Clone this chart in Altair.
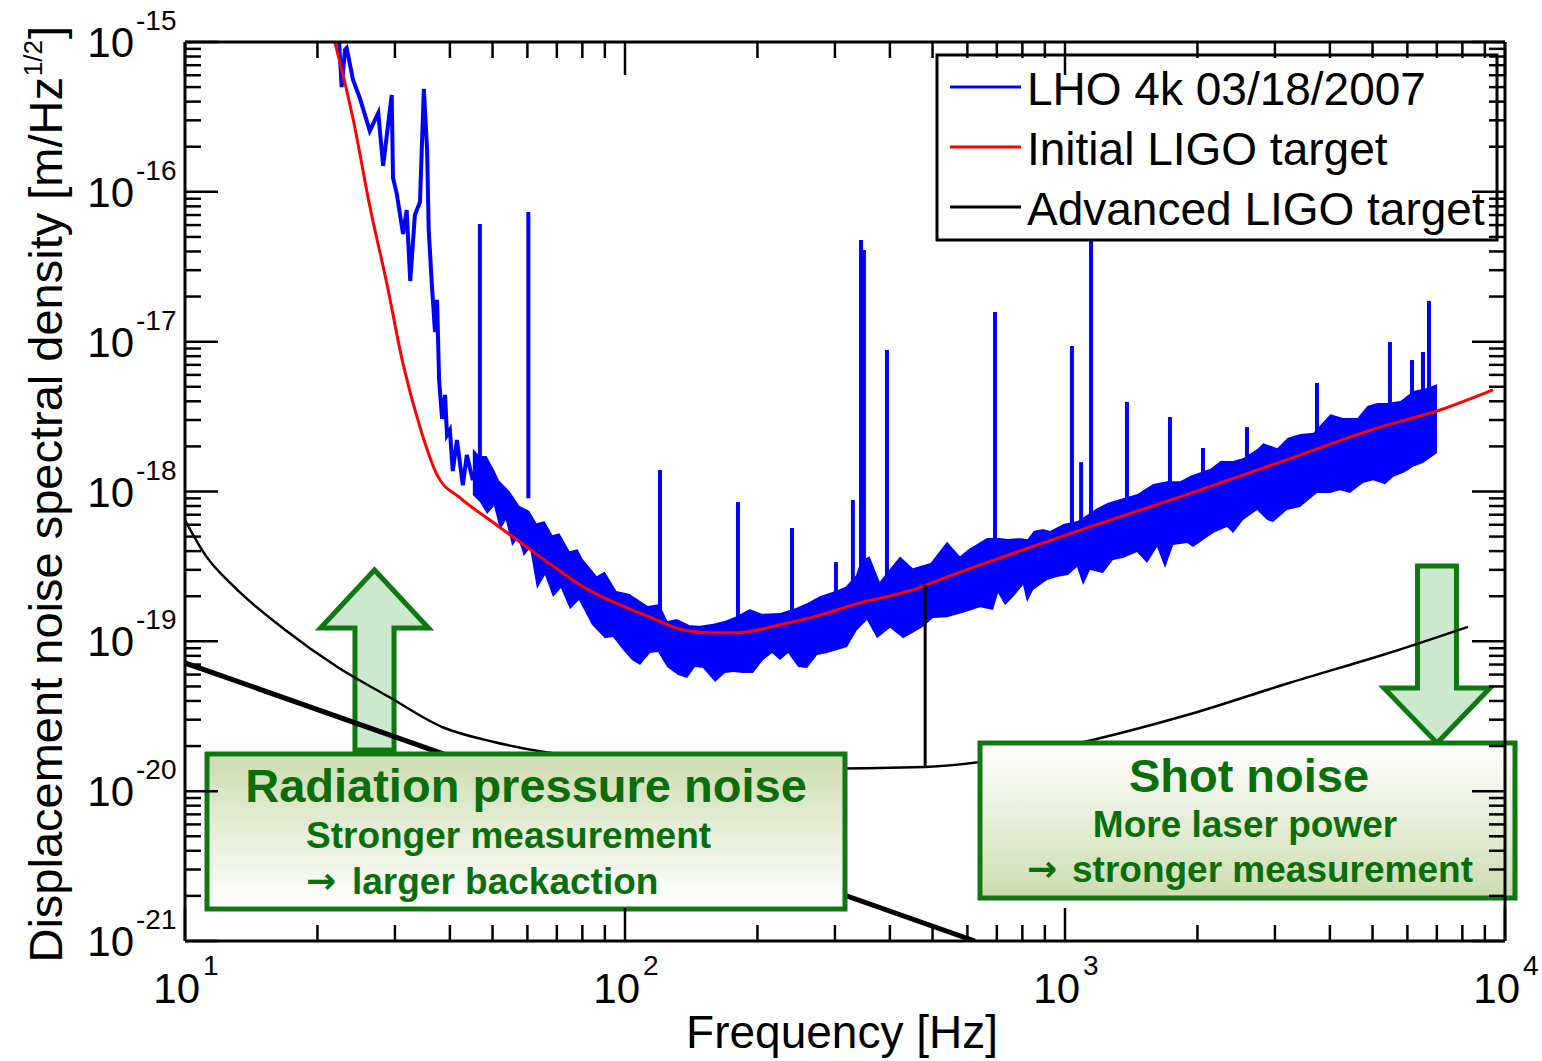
import altair as alt
import pandas as pd

# ---------------- data ----------------
# Initial LIGO target (red)
red_freq = [21.9, 24.1, 26.3, 28.8, 31.3, 34.2, 37.4, 42.2, 49.3, 57.7, 68.6, 82.0, 97.4,
            114, 133, 158, 180, 225, 267, 348, 451, 540, 711, 1082, 1825, 3080, 5200, 7120, 9390]
red_val = [1.0e-15, 3.06e-16, 8.04e-17, 2.39e-17, 7.1e-18, 2.69e-18, 1.29e-18, 9.05e-19, 6.45e-19,
           4.6e-19, 3.18e-19, 2.23e-19, 1.75e-19, 1.45e-19, 1.21e-19, 1.14e-19, 1.14e-19, 1.29e-19,
           1.45e-19, 1.83e-19, 2.2e-19, 2.69e-19, 3.6e-19, 5.53e-19, 9.2e-19, 1.57e-18, 2.69e-18,
           3.5e-18, 4.76e-18]

# Advanced LIGO target (thin black)
adv_freq = [10, 10.2, 11.2, 12.8, 16.9, 22.2, 29.1, 38.4, 50.4, 66.1, 87.3, 150, 261, 481,
            648, 1105, 1893, 3228, 5535, 8240]
adv_val = [6.45e-19, 5.79e-19, 3.66e-19, 2.38e-19, 1.19e-19, 6.74e-20, 4.25e-20, 2.68e-20, 2.13e-20,
           1.82e-20, 1.66e-20, 1.45e-20, 1.41e-20, 1.45e-20, 1.57e-20, 2.13e-20, 3.22e-20,
           5.27e-20, 8.49e-20, 1.25e-19]
# Advanced LIGO violin-mode line
adv_line_freq = [481]
adv_line_base = [1.45e-20]
adv_line_top = [2.38e-19]

# radiation pressure line (thick black)
rp_freq = [10, 624]
rp_val = [7.17e-20, 1.0e-21]

# LHO 4k measured spectrum (blue): low-frequency trace
low_freq = [22.4, 22.7, 23.1, 23.3, 24.1, 25.0, 26.3, 27.5, 28.2, 29.5, 29.7, 30.3, 31.3, 31.9, 32.5,
            33.3, 34.2, 34.9, 35.5, 35.8, 36.4, 37.0, 37.4, 37.8, 38.4, 39.0, 39.4, 40.0, 40.6, 41.5,
            42.8, 43.7, 45.1]
low_val = [1.0e-15, 5.0e-16, 8.85e-16, 9.1e-16, 5.58e-16, 4.17e-16, 2.55e-16, 3.36e-16, 1.49e-16,
           4.43e-16, 1.24e-16, 9.67e-17, 5.23e-17, 7.56e-17, 2.54e-17, 7.0e-17, 8.55e-17, 4.86e-16,
           1.9e-16, 5.56e-17, 2.39e-17, 1.16e-17, 1.9e-17, 5.55e-18, 3.05e-18, 4.41e-18, 2.38e-18,
           2.57e-18, 1.37e-18, 2.21e-18, 1.10e-18, 1.75e-18, 1.19e-18]

# LHO 4k measured spectrum (blue): ragged upper edge of the noise band
up_freq = [45.1, 46.8, 48.6, 50.7, 52.0, 54.8, 57.7, 60.8, 63.1, 65.8, 68.6, 71.1, 75.0, 78.2,
           80.3, 86.4, 90.0, 95.9, 102.7, 112.8, 120.1, 125.2, 131.3, 140.5, 148.1, 158.5, 168.8,
           177.8, 192.3, 204.8, 225.1, 243.5, 259.3, 277.6, 300.1, 316.2, 333.3, 342.1, 360.5,
           379.8, 421.7, 451.3, 493.4, 539.3, 577.1, 608.2, 664.8, 711.8, 738.3, 790.2, 819.8,
           846.1, 891.3, 924.6, 989.7, 1065, 1140, 1182, 1246, 1334, 1458, 1585, 1705, 1826, 1924,
           2135, 2251, 2409, 2539, 2732, 2818, 3033, 3195, 3421, 3661, 4004, 4284, 4609, 4857,
           5119, 5393, 5774, 6179, 6648, 7007]
up_val = [1.98e-18, 1.75e-18, 1.75e-18, 1.39e-18, 1.19e-18, 1.02e-18, 8.13e-19, 7.52e-19, 6.26e-19,
          6.45e-19, 5.20e-19, 5.36e-19, 4.07e-19, 4.20e-19, 3.60e-19, 2.77e-19, 2.99e-19, 2.20e-19,
          2.10e-19, 1.75e-19, 1.80e-19, 1.39e-19, 1.43e-19, 1.30e-19, 1.29e-19, 1.33e-19, 1.39e-19,
          1.48e-19, 1.67e-19, 1.55e-19, 1.57e-19, 1.69e-19, 1.83e-19, 2.04e-19, 2.20e-19, 2.34e-19,
          2.77e-19, 3.49e-19, 3.77e-19, 2.57e-19, 3.77e-19, 3.13e-19, 3.38e-19, 4.74e-19, 3.77e-19,
          4.26e-19, 4.97e-19, 4.97e-19, 4.89e-19, 4.97e-19, 4.89e-19, 5.53e-19, 5.71e-19, 5.53e-19,
          6.16e-19, 6.45e-19, 7.30e-19, 7.88e-19, 8.51e-19, 9.05e-19, 9.77e-19, 1.14e-18, 1.19e-18,
          1.19e-18, 1.29e-18, 1.44e-18, 1.62e-18, 1.62e-18, 1.70e-18, 1.95e-18, 2.14e-18, 1.98e-18,
          2.31e-18, 2.46e-18, 2.50e-18, 3.34e-18, 3.14e-18, 3.14e-18, 3.78e-18, 3.96e-18, 3.96e-18,
          4.08e-18, 4.76e-18, 4.98e-18, 5.30e-18]

# LHO 4k measured spectrum (blue): ragged lower edge of the noise band
lo_freq = [45.1, 46.8, 48.6, 50.4, 52.0, 53.6, 55.4, 57.1, 58.9, 60.8, 63.1, 65.8, 68.6, 71.5,
           75.0, 78.6, 84.1, 90.0, 93.9, 99.0, 103.7, 108.2, 114.0, 118.9, 124.6, 132.0, 138.4,
           144.2, 150.4, 160.2, 168.8, 176.1, 185.4, 195.4, 205.9, 215.9, 225.1, 234.8, 247.4,
           259.3, 273.3, 287.9, 303.3, 319.6, 336.8, 354.8, 373.9, 400.4, 428.5, 451.3, 475.7,
           501.2, 539.3, 586.5, 641.0, 686.2, 704.3, 730.6, 761.9, 802.8, 819.8, 846.1, 910.3,
           959.0, 1016, 1065, 1099, 1140, 1220, 1285, 1355, 1458, 1536, 1619, 1688, 1761, 1894,
           1954, 2059, 2170, 2335, 2409, 2539, 2732, 2879, 2970, 3195, 3421, 3739, 4004, 4217,
           4443, 4757, 5012, 5337, 5566, 5925, 6179, 6510, 7007]
lo_val = [9.48e-19, 8.51e-19, 7.08e-19, 8.00e-19, 5.53e-19, 6.45e-19, 4.33e-19, 4.89e-19, 3.71e-19,
          4.20e-19, 2.24e-19, 2.77e-19, 1.98e-19, 2.27e-19, 1.64e-19, 1.89e-19, 1.29e-19, 1.05e-19,
          1.07e-19, 8.75e-20, 7.50e-20, 6.95e-20, 8.36e-20, 8.49e-20, 6.74e-20, 5.96e-20, 5.69e-20,
          6.74e-20, 6.64e-20, 5.35e-20, 6.15e-20, 6.24e-20, 6.15e-20, 6.15e-20, 7.50e-20, 8.36e-20,
          7.50e-20, 8.36e-20, 6.74e-20, 6.64e-20, 8.10e-20, 8.36e-20, 8.75e-20, 9.16e-20, 1.19e-19,
          1.39e-19, 1.05e-19, 1.23e-19, 1.05e-19, 1.14e-19, 1.25e-19, 1.43e-19, 1.45e-19, 1.55e-19,
          1.69e-19, 1.62e-19, 2.10e-19, 1.75e-19, 1.98e-19, 2.38e-19, 1.83e-19, 2.20e-19, 2.57e-19,
          2.69e-19, 2.77e-19, 3.13e-19, 2.38e-19, 2.99e-19, 2.86e-19, 3.49e-19, 3.60e-19, 3.95e-19,
          3.33e-19, 4.26e-19, 3.09e-19, 4.39e-19, 4.53e-19, 4.26e-19, 4.74e-19, 5.28e-19, 5.79e-19,
          5.28e-19, 6.45e-19, 7.52e-19, 6.45e-19, 6.26e-19, 7.52e-19, 7.88e-19, 9.77e-19, 9.77e-19,
          1.02e-18, 9.77e-19, 1.14e-18, 1.19e-18, 1.12e-18, 1.25e-18, 1.35e-18, 1.46e-18, 1.55e-18,
          1.81e-18]

# LHO 4k measured spectrum (blue): narrow lines
spike_freq = [46.8, 60.3, 120.1, 180.6, 239.6, 301.6, 329.6, 343.9, 349.2, 393.9, 693.4, 1037,
              1088, 1146, 1383, 1732, 2059, 2592, 3739, 5477, 6146, 6510, 6718]
spike_base = [1.3e-18, 9.0e-19, 1.5e-19, 1.4e-19, 1.6e-19, 2.0e-19, 2.3e-19, 2.5e-19, 2.5e-19,
              2.6e-19, 3.6e-19, 6.0e-19, 6.0e-19, 7.0e-19, 8.0e-19, 1.0e-18, 1.2e-18, 1.5e-18,
              2.4e-18, 3.5e-18, 4.0e-18, 4.0e-18, 4.0e-18]
spike_top = [6.10e-17, 7.33e-17, 1.39e-18, 8.51e-19, 5.71e-19, 3.38e-19, 8.77e-19, 4.77e-17,
             4.09e-17, 8.8e-18, 1.58e-17, 9.35e-18, 1.57e-18, 4.77e-17, 3.96e-18, 3.14e-18,
             1.95e-18, 2.69e-18, 5.30e-18, 9.95e-18, 7.54e-18, 8.53e-18, 1.87e-17]

# legend
series_names = ["LHO 4k 03/18/2007", "Initial LIGO target", "Advanced LIGO target"]
series_colors = ["#0000ff", "#ff0000", "#000000"]

# axis ticks / labels
x_domain = [10, 10000]
y_domain = [1e-21, 1e-15]
x_major = [10, 100, 1000, 10000]
x_exp = ["1", "2", "3", "4"]
y_major = [1e-21, 1e-20, 1e-19, 1e-18, 1e-17, 1e-16, 1e-15]
y_exp = ["-21", "-20", "-19", "-18", "-17", "-16", "-15"]
x_minor = [k * 10 ** d for d in range(1, 4) for k in range(2, 10)]
y_minor = [k * 10.0 ** d for d in range(-21, -15) for k in range(2, 10)]

# annotation texts
rad_title = "Radiation pressure noise"
rad_lines = ["Stronger measurement", "\u2192 larger backaction"]
shot_title = "Shot noise"
shot_lines = ["More laser power", "\u2192 stronger measurement"]
x_title = "Frequency [Hz]"
y_title_main = "Displacement noise spectral density [m/Hz"
y_title_sup = "1/2"

# ---------------- styling ----------------
FONT = "Liberation Sans, Arial, Helvetica, sans-serif"
ARROW_FONT = "DejaVu Sans, sans-serif"
W, H = 1320, 899
GREEN_TEXT = "#0a6e0a"
GREEN_LINE = "#107810"
ARROW_FILL = "#cde9cd"
BLUE = "#0000ff"

xs = alt.Scale(type="log", domain=x_domain, nice=False)
ys = alt.Scale(type="log", domain=y_domain, nice=False)


def X(field):
    return alt.X(field, type="quantitative", scale=xs, axis=None)


def Y(field):
    return alt.Y(field, type="quantitative", scale=ys, axis=None)


one = pd.DataFrame({"a": [0]})
layers = []

# ---- arrows (under the curves) ----
up_path = "M0,-1L0.6,-0.356L0.217,-0.356L0.217,1L-0.217,1L-0.217,-0.356L-0.6,-0.356Z"
down_path = "M0,1L0.6,0.379L0.22,0.379L0.22,-1L-0.22,-1L-0.22,0.379L-0.6,0.379Z"
layers.append(alt.Chart(one).mark_point(
    shape=up_path, size=32400, filled=True, fill=ARROW_FILL, stroke=GREEN_LINE,
    strokeWidth=5, opacity=1, strokeJoin="miter").encode(x=alt.value(189.5), y=alt.value(618)))
layers.append(alt.Chart(one).mark_point(
    shape=down_path, size=31329, filled=True, fill=ARROW_FILL, stroke=GREEN_LINE,
    strokeWidth=5, opacity=1, strokeJoin="miter").encode(x=alt.value(1252), y=alt.value(612.5)))

# ---- measured spectrum (blue) ----
# band: fill above the ragged lower edge, then blank out above the ragged upper edge
lo_df = pd.DataFrame({"f": lo_freq, "v": lo_val, "ceil": y_domain[1]})
up_df = pd.DataFrame({"f": up_freq, "v": up_val, "ceil": y_domain[1]})
layers.append(alt.Chart(lo_df).mark_area(color=BLUE, opacity=1).encode(
    x=X("f"), y=Y("v"), y2="ceil:Q"))
layers.append(alt.Chart(up_df).mark_area(fill="white", stroke="white", strokeWidth=2,
                                         opacity=1).encode(
    x=X("f"), y=Y("v"), y2="ceil:Q"))
low_df = pd.DataFrame({"f": low_freq, "v": low_val, "i": range(len(low_freq))})
layers.append(alt.Chart(low_df).mark_line(color=BLUE, strokeWidth=4, clip=True).encode(
    x=X("f"), y=Y("v"), order="i:Q"))
spk_df = pd.DataFrame({"f": spike_freq, "b": spike_base, "t": spike_top})
layers.append(alt.Chart(spk_df).mark_rule(color=BLUE, strokeWidth=4).encode(
    x=X("f"), y=Y("b"), y2="t:Q"))

# ---- Initial LIGO target (red) ----
red_df = pd.DataFrame({"f": red_freq, "v": red_val})
layers.append(alt.Chart(red_df).mark_line(color="#ff0000", strokeWidth=3, clip=True,
                                          interpolate="monotone").encode(x=X("f"), y=Y("v")))

# ---- Advanced LIGO target (black) ----
adv_df = pd.DataFrame({"f": adv_freq, "v": adv_val})
layers.append(alt.Chart(adv_df).mark_line(color="#000000", strokeWidth=2.5, clip=True,
                                          interpolate="monotone").encode(x=X("f"), y=Y("v")))
vio_df = pd.DataFrame({"f": adv_line_freq, "b": adv_line_base, "t": adv_line_top})
layers.append(alt.Chart(vio_df).mark_rule(color="#000000", strokeWidth=3).encode(
    x=X("f"), y=Y("b"), y2="t:Q"))
rp_df = pd.DataFrame({"f": rp_freq, "v": rp_val})
layers.append(alt.Chart(rp_df).mark_line(color="#000000", strokeWidth=5, clip=True).encode(
    x=X("f"), y=Y("v")))

# ---- annotation boxes ----
rad_grad = {"gradient": "linear", "x1": 0, "y1": 0, "x2": 0, "y2": 1,
            "stops": [{"offset": 0, "color": "#cddcb0"}, {"offset": 1, "color": "#ffffff"}]}
shot_grad = {"gradient": "linear", "x1": 0, "y1": 0, "x2": 0, "y2": 1,
             "stops": [{"offset": 0, "color": "#ffffff"}, {"offset": 1, "color": "#cddcb0"}]}
layers.append(alt.Chart(one).mark_rect(fill=rad_grad, stroke=GREEN_LINE, strokeWidth=5).encode(
    x=alt.value(22), x2=alt.value(660), y=alt.value(712), y2=alt.value(867)))
layers.append(alt.Chart(one).mark_rect(fill=shot_grad, stroke=GREEN_LINE, strokeWidth=5).encode(
    x=alt.value(795), x2=alt.value(1330), y=alt.value(701), y2=alt.value(856)))


def txt(s, x, y, size, align="center", bold=True, color=GREEN_TEXT, angle=None, font=FONT):
    kw = dict(align=align, baseline="alphabetic", fontSize=size, font=font, color=color,
              fontWeight="bold" if bold else "normal")
    if angle is not None:
        kw["angle"] = angle
    return alt.Chart(one).mark_text(**kw).encode(
        x=alt.value(x), y=alt.value(y), text=alt.value(s))


rad_arrow, rad_rest = rad_lines[1].split(" ", 1)
shot_arrow, shot_rest = shot_lines[1].split(" ", 1)
layers.append(txt(rad_title, 341, 760, 47))
layers.append(txt(rad_lines[0], 121, 806, 37, align="left"))
layers.append(txt(rad_arrow, 121, 851, 36, align="left", font=ARROW_FONT))
layers.append(txt(rad_rest, 167, 852, 37, align="left"))
layers.append(txt(shot_title, 1064, 750, 47))
layers.append(txt(shot_lines[0], 1060, 795, 37))
layers.append(txt(shot_arrow, 842, 839, 36, align="left", font=ARROW_FONT))
layers.append(txt(shot_rest, 887, 840, 37, align="left"))

# ---- legend ----
layers.append(alt.Chart(one).mark_rect(fill="white", stroke="black", strokeWidth=3).encode(
    x=alt.value(752), x2=alt.value(1312), y=alt.value(13), y2=alt.value(198)))
for i, (name, col) in enumerate(zip(series_names, series_colors)):
    ly = 45 + 60 * i
    layers.append(alt.Chart(one).mark_rule(color=col, strokeWidth=3).encode(
        x=alt.value(765), x2=alt.value(836), y=alt.value(ly)))
    layers.append(txt(name, 842, ly + 18, 46, align="left", bold=False, color="black"))

# ---- frame and inward ticks ----
TICK = dict(color="black", strokeWidth=2.5)
xM = pd.DataFrame({"f": x_major})
xm = pd.DataFrame({"f": x_minor})
yM = pd.DataFrame({"v": y_major})
ym = pd.DataFrame({"v": y_minor})
for df, ln in ((xM, 33), (xm, 16)):
    layers.append(alt.Chart(df).mark_rule(**TICK).encode(
        x=X("f"), y=alt.value(H), y2=alt.value(H - ln)))
    layers.append(alt.Chart(df).mark_rule(**TICK).encode(
        x=X("f"), y=alt.value(0), y2=alt.value(ln)))
for df, ln in ((yM, 33), (ym, 16)):
    layers.append(alt.Chart(df).mark_rule(**TICK).encode(
        y=Y("v"), x=alt.value(0), x2=alt.value(ln)))
    layers.append(alt.Chart(df).mark_rule(**TICK).encode(
        y=Y("v"), x=alt.value(W), x2=alt.value(W - ln)))
FRAME = dict(color="black", strokeWidth=3)
layers.append(alt.Chart(one).mark_rule(**FRAME).encode(x=alt.value(0), x2=alt.value(W), y=alt.value(0)))
layers.append(alt.Chart(one).mark_rule(**FRAME).encode(x=alt.value(0), x2=alt.value(W), y=alt.value(H)))
layers.append(alt.Chart(one).mark_rule(**FRAME).encode(x=alt.value(0), y=alt.value(0), y2=alt.value(H)))
layers.append(alt.Chart(one).mark_rule(**FRAME).encode(x=alt.value(W), y=alt.value(0), y2=alt.value(H)))

# ---- tick labels (10 with superscript exponent) ----
xl = pd.DataFrame({"f": x_major, "e": x_exp})
layers.append(alt.Chart(xl).mark_text(align="right", baseline="alphabetic", dx=15, fontSize=42,
                                      font=FONT, color="black").encode(
    x=X("f"), y=alt.value(961), text=alt.value("10")))
layers.append(alt.Chart(xl).mark_text(align="left", baseline="alphabetic", dx=18, fontSize=28,
                                      font=FONT, color="black").encode(
    x=X("f"), y=alt.value(933), text="e:N"))
yl = pd.DataFrame({"v": y_major, "e": y_exp})
layers.append(alt.Chart(yl).mark_text(align="right", baseline="alphabetic", dy=15, fontSize=42,
                                      font=FONT, color="black").encode(
    y=Y("v"), x=alt.value(-51), text=alt.value("10")))
layers.append(alt.Chart(yl).mark_text(align="left", baseline="alphabetic", dy=-12, fontSize=28,
                                      font=FONT, color="black").encode(
    y=Y("v"), x=alt.value(-49), text="e:N"))

# ---- axis titles ----
layers.append(txt(x_title, 657, 1006, 46, bold=False, color="black"))
layers.append(txt(y_title_main, -123, 35, 47, align="right", bold=False, color="black", angle=270))
layers.append(txt(y_title_sup, -143, -2, 26, align="right", bold=False, color="black", angle=270))
layers.append(txt("]", -123, -16, 47, align="right", bold=False, color="black", angle=270))

chart = alt.layer(*layers).properties(
    width=W, height=H,
    padding={"left": 185, "top": 42, "right": 37, "bottom": 120},
    autosize=alt.AutoSizeParams(type="none"),
    background="white",
).configure_view(strokeWidth=0)

chart.save("out.html", embed_options={"renderer": "svg", "actions": False})
